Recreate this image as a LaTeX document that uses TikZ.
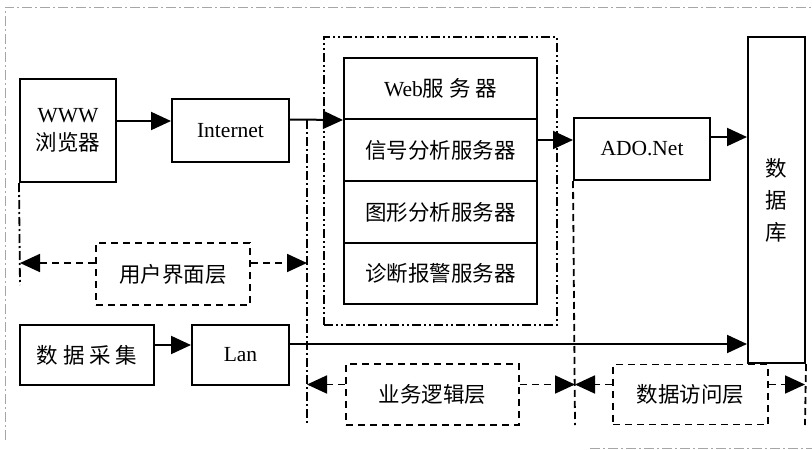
\documentclass[tikz,border=0pt]{standalone}
\usepackage{fontspec}
\setmainfont{Liberation Serif}
\newfontfamily\cjk{Noto Sans CJK SC}
\usetikzlibrary{arrows.meta,fit}

\begin{document}
\begin{tikzpicture}[x=1pt, y=-1pt,
  font=\fontsize{21.5}{28}\selectfont,
  srvbox/.style={draw, line width=2pt, inner sep=0pt, align=center},
  layerbox/.style={draw, line width=1.8pt, inner sep=0pt, dash pattern=on 7pt off 5pt},
  arr/.style={line width=2pt, -{Triangle[length=20pt,width=18pt]}},
  larr/.style={line width=1.8pt, dash pattern=on 7pt off 5pt, -{Triangle[length=20pt,width=18pt]}},
  sepline/.style={line width=1.8pt, dash pattern=on 9pt off 3pt on 2pt off 3pt},
  frame/.style={gray!70, line width=1pt, dash pattern=on 10pt off 3pt on 2pt off 3pt}]
  \useasboundingbox (0,0) rectangle (812,450);

  % outer frame
  \draw[frame] (5,440) -- (5,7) -- (812,7);
  \draw[frame] (590,448) -- (812,448);

  \node[srvbox, minimum width=96, minimum height=103] (www) at (68,130.5) {WWW\\{\cjk 浏览器}};
  \node[srvbox, minimum width=117, minimum height=63] (inet) at (230.5,130.5) {Internet};
  \node[srvbox, minimum width=193, minimum height=61] (web) at (440.5,88.5) {Web{\cjk 服 务 器}};
  \node[srvbox, minimum width=193, minimum height=62] (sig) at (440.5,150) {\cjk 信号分析服务器};
  \node[srvbox, minimum width=193, minimum height=62] (gra) at (440.5,212) {\cjk 图形分析服务器};
  \node[srvbox, minimum width=193, minimum height=61] (dia) at (440.5,273.5) {\cjk 诊断报警服务器};
  \node[sepline, draw, fit=(web)(dia), inner xsep=19pt, inner ysep=20pt, dash pattern=on 9pt off 3pt on 2pt off 3pt on 2pt off 3pt] (srv) {};
  \node[srvbox, minimum width=136, minimum height=62] (ado) at (642,149) {ADO.Net};
  \node[srvbox, minimum width=57, minimum height=326, font=\fontsize{21.5}{32}\selectfont] (db) at (776.5,200) {\cjk 数\\\cjk 据\\\cjk 库};
  \node[srvbox, minimum width=134, minimum height=60] (caiji) at (87,355) {\cjk 数 据 采 集};
  \node[srvbox, minimum width=97, minimum height=60] (lan) at (240.5,355) {Lan};

  \node[layerbox, minimum width=154, minimum height=62] (ui) at (173,274) {\cjk 用户界面层};
  \node[layerbox, minimum width=173, minimum height=61] (biz) at (432.5,394.5) {\cjk 业务逻辑层};
  \node[layerbox, minimum width=155, minimum height=60] (dal) at (690.5,394.5) {\cjk 数据访问层};

  % layer borders
  \coordinate (b1) at (20,285);
  \coordinate (b2t) at (307,120);
  \coordinate (b2) at (307,425);
  \coordinate (b3) at (575,425);
  \coordinate (b4) at (805,425);
  \draw[sepline] (www.south west) -- (b1);
  \draw[sepline] (b2t) -- (b2);
  \draw[line width=1.8pt, dash pattern=on 7pt off 4pt] (ado.south west) -- (b3);
  \draw[line width=1.8pt, dash pattern=on 7pt off 4pt] (db.south east) -- (b4);

  \draw[arr] ([yshift=9.5pt]www.east) -- ([yshift=9.5pt]inet.west);
  \draw[arr] ([yshift=11pt]inet.east) -- (web.south west);
  \draw[arr] ([yshift=10pt]sig.east) -- ([yshift=10pt]sig.east -| ado.west);
  \draw[arr] ([yshift=12pt]ado.east) -- ([yshift=12pt]ado.east -| db.west);
  \draw[arr] ([yshift=10pt]caiji.east) -- ([yshift=10pt]lan.west);
  \draw[arr] ([yshift=11pt]lan.east) -- ([yshift=11pt]lan.east -| db.west);

  \draw[larr] ([yshift=11pt]ui.west) -- ([yshift=11pt]ui.west -| b1);
  \draw[larr] ([yshift=11pt]ui.east) -- ([yshift=11pt]ui.east -| b2);
  \draw[larr] ([yshift=10pt]biz.west) -- ([yshift=10pt]biz.west -| b2);
  \draw[larr] ([yshift=10pt]biz.east) -- ([yshift=10pt]biz.east -| b3);
  \draw[larr] ([yshift=10pt]dal.west) -- ([yshift=10pt]dal.west -| b3);
  \draw[larr] ([yshift=10pt]dal.east) -- ([yshift=10pt]dal.east -| b4);
\end{tikzpicture}
\end{document}
